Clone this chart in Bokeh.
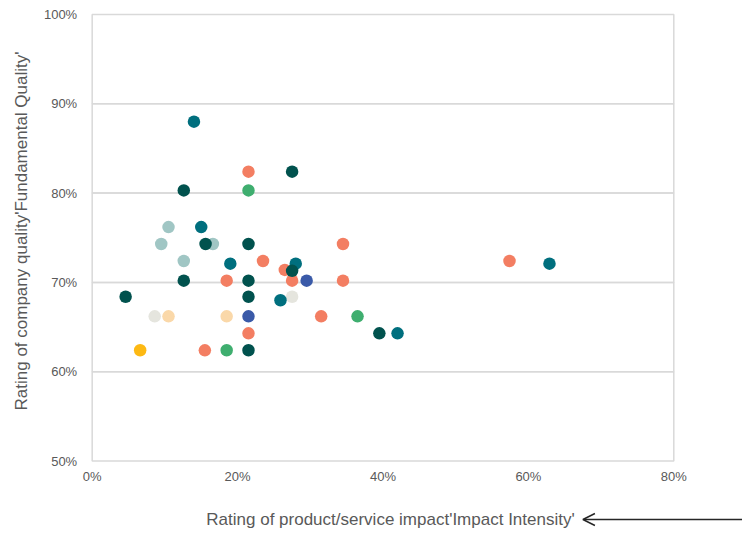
from bokeh.plotting import figure
from bokeh.models import (ColumnDataSource, FixedTicker, PrintfTickFormatter,
                          Arrow, OpenHead, Range1d, BoxAnnotation)
from bokeh.embed import file_html
from bokeh.resources import INLINE

# ---- data (percent values) ----
light_teal_x = [10.5, 9.5, 16.6, 12.6]
light_teal_y = [76.2, 74.3, 74.3, 72.4]

pale_x = [27.5, 8.6]
pale_y = [68.4, 66.2]

peach_x = [10.5, 18.5]
peach_y = [66.2, 66.2]

yellow_x = [6.6]
yellow_y = [62.4]

coral_x = [21.5, 34.5, 23.5, 26.5, 18.5, 27.5, 34.5, 57.4, 31.5, 21.5, 15.5]
coral_y = [82.4, 74.3, 72.4, 71.4, 70.2, 70.2, 70.2, 72.4, 66.2, 64.3, 62.4]

green_x = [21.5, 36.5, 18.5]
green_y = [80.3, 66.2, 62.4]

blue_x = [29.5, 21.5]
blue_y = [70.2, 66.2]

teal_x = [14.0, 15.0, 19.0, 28.0, 62.9, 25.9, 42.0]
teal_y = [88.0, 76.2, 72.1, 72.1, 72.1, 68.0, 64.3]

dark_x = [27.5, 12.6, 15.6, 21.5, 27.5, 12.6, 21.5, 4.6, 21.5, 39.5, 21.5]
dark_y = [82.4, 80.3, 74.3, 74.3, 71.3, 70.2, 70.2, 68.4, 68.4, 64.3, 62.4]

x_ticks = [0, 20, 40, 60, 80]
y_ticks = [50, 60, 70, 80, 90, 100]
x_min, x_max = 0, 80
y_min, y_max = 50, 100

x_title = "Rating of product/service impact'Impact Intensity'"
y_title = "Rating of company quality'Fundamental Quality'"

series = [
    (light_teal_x, light_teal_y, "#A0C6C4"),
    (pale_x, pale_y, "#E5E5DE"),
    (peach_x, peach_y, "#FAD8A9"),
    (yellow_x, yellow_y, "#FDB913"),
    (coral_x, coral_y, "#F37E62"),
    (green_x, green_y, "#3FAE6F"),
    (blue_x, blue_y, "#3A5AA8"),
    (teal_x, teal_y, "#006F7E"),
    (dark_x, dark_y, "#01524E"),
]

FONT = "Liberation Sans"
GREY = "#595959"
BORDER = "#D9D9D9"

# the canvas is used as the frame so that the titles and the arrow outside the
# plot box can be drawn; the plot box and its gridlines are drawn as data boxes.
p = figure(width=742, height=535, output_backend="svg", toolbar_location=None,
           x_range=Range1d(-12.61, 89.45), y_range=Range1d(41.66, 101.57),
           min_border=0)

p.background_fill_color = "white"
p.border_fill_color = "white"
p.outline_line_color = None
p.xgrid.visible = False
p.ygrid.visible = False

# plot box + horizontal gridlines, one band per pair of y ticks
for lo, hi in zip(y_ticks[:-1], y_ticks[1:]):
    p.add_layout(BoxAnnotation(left=x_min, right=x_max, bottom=lo, top=hi,
                               fill_color=None, fill_alpha=0,
                               line_color=BORDER, line_alpha=1.0, line_width=1.5,
                               level="underlay"))

for xs, ys, col in series:
    src = ColumnDataSource(dict(x=xs, y=ys))
    p.scatter("x", "y", source=src, size=12.5, fill_color=col, line_color=None)

p.xaxis.fixed_location = y_min
p.yaxis.fixed_location = x_min
p.xaxis.bounds = (0, 82)        # places the title centre as in the reference
p.yaxis.bounds = (50, 103)
p.xaxis.ticker = FixedTicker(ticks=x_ticks)
p.yaxis.ticker = FixedTicker(ticks=y_ticks)
p.xaxis.formatter = PrintfTickFormatter(format="%d%%")
p.yaxis.formatter = PrintfTickFormatter(format="%d%%")
p.xaxis.axis_label = x_title
p.yaxis.axis_label = y_title

for ax in (p.xaxis[0], p.yaxis[0]):
    ax.axis_line_color = None
    ax.major_tick_line_color = None
    ax.minor_tick_line_color = None
    ax.major_label_text_font = FONT
    ax.major_label_text_font_size = "13px"
    ax.major_label_text_color = GREY
    ax.axis_label_text_font = FONT
    ax.axis_label_text_font_size = "17px"
    ax.axis_label_text_font_style = "normal"
    ax.axis_label_text_color = GREY
p.xaxis.major_label_standoff = 2
p.yaxis.major_label_standoff = 9
p.xaxis.axis_label_standoff = 22
p.yaxis.axis_label_standoff = 10

p.add_layout(Arrow(x_start=92, y_start=43.45, x_end=67.5, y_end=43.45,
                   line_color="#262626", line_width=1.5,
                   end=OpenHead(size=12, line_color="#262626", line_width=1.5)))

open("out.html", "w").write(file_html(p, INLINE))
